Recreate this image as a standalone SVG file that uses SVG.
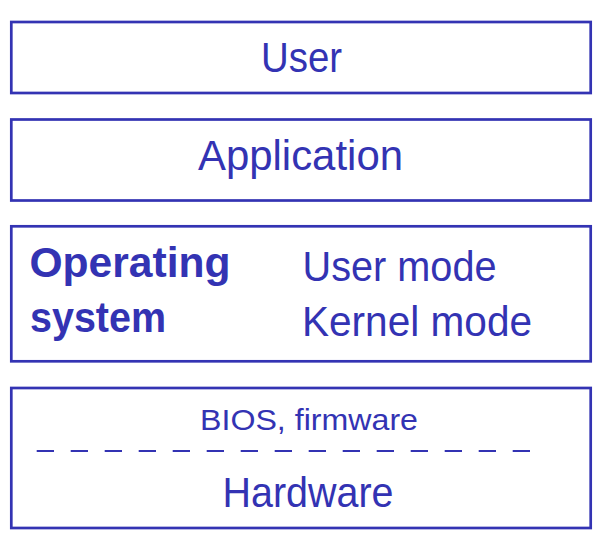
<svg xmlns="http://www.w3.org/2000/svg" width="605" height="542" viewBox="0 0 605 542">
<style>
.box{fill:none;stroke:#3333b3;stroke-width:2.7}
.t{font-family:"Liberation Sans",Arial,sans-serif;fill:#3333b3}
.b{font-weight:bold}
.dash{stroke:#3333b3;stroke-width:2;stroke-dasharray:17.3 16.7;fill:none}
</style>
<rect width="605" height="542" fill="#ffffff"/>
<g id="user">
<rect class="box" x="11.3" y="22" width="579.4" height="71"/>
<text class="t" x="261" y="72.3" font-size="43" textLength="81" lengthAdjust="spacingAndGlyphs">User</text>
</g>
<g id="application">
<rect class="box" x="11.3" y="119.5" width="579.4" height="81"/>
<text class="t" x="198" y="170" font-size="43" textLength="205" lengthAdjust="spacingAndGlyphs">Application</text>
</g>
<g id="operating-system">
<rect class="box" x="11.3" y="226.3" width="579.4" height="135"/>
<text class="t b" x="29.5" y="277" font-size="42" textLength="201" lengthAdjust="spacingAndGlyphs">Operating</text>
<text class="t b" x="30" y="331.7" font-size="42" textLength="136" lengthAdjust="spacingAndGlyphs">system</text>
<text class="t" x="302.5" y="280.7" font-size="42" textLength="194" lengthAdjust="spacingAndGlyphs">User mode</text>
<text class="t" x="302" y="335.7" font-size="42" textLength="230" lengthAdjust="spacingAndGlyphs">Kernel mode</text>
</g>
<g id="hardware">
<rect class="box" x="11.3" y="388" width="579.4" height="140"/>
<text class="t" x="200" y="430" font-size="29" textLength="218" lengthAdjust="spacingAndGlyphs">BIOS, firmware</text>
<text class="t" x="222.5" y="506.7" font-size="43" textLength="171" lengthAdjust="spacingAndGlyphs">Hardware</text>
</g>
<g id="connectors">
<line class="dash" x1="36.7" y1="451" x2="530" y2="451"/>
</g>
</svg>
